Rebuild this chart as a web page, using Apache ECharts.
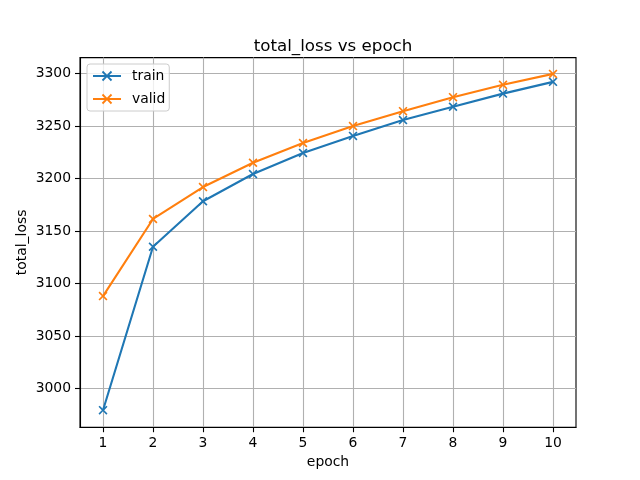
<!DOCTYPE html>
<html>
<head>
<meta charset="utf-8">
<script src="https://cdn.jsdelivr.net/npm/echarts@6/dist/echarts.min.js"></script>
<style>html,body{margin:0;padding:0;background:#fff}#c{width:640px;height:480px}</style>
</head>
<body>
<div id="c"></div>
<script>
const epochs = [1, 2, 3, 4, 5, 6, 7, 8, 9, 10];
const trainLoss = [2979.5, 3135.2, 3178.5, 3204.4, 3224.5, 3240.7, 3255.8, 3268.5, 3281.0, 3292.2];
const validLoss = [3088.2, 3161.6, 3192.0, 3215.2, 3234.0, 3250.1, 3264.3, 3277.6, 3289.4, 3299.8];
const xTicks = [1, 2, 3, 4, 5, 6, 7, 8, 9, 10];
const yTicks = [3000, 3050, 3100, 3150, 3200, 3250, 3300];

const font = 'DejaVu Sans';
const xMarker = 'path://M0,1.3L1.3,0L5,3.7L8.7,0L10,1.3L6.3,5L10,8.7L8.7,10L5,6.3L1.3,10L0,8.7L3.7,5Z';
const chart = echarts.init(document.getElementById('c'), null, {renderer: 'canvas'});
function mkSeries(name, vals, color) {
  return {
    name: name, type: 'line',
    data: epochs.map((e, i) => [e, vals[i]]),
    symbol: xMarker, symbolSize: 9, showSymbol: true,
    lineStyle: {color: color, width: 2.1},
    itemStyle: {color: color},
    emphasis: {disabled: true},
    animation: false
  };
}
chart.setOption({
  animation: false,
  backgroundColor: '#ffffff',
  title: {
    text: 'total_loss vs epoch', left: 328, top: 33, textAlign: 'center',
    textStyle: {fontFamily: font, fontSize: 16.7, fontWeight: 'normal', color: '#000'}
  },
  legend: {
    left: 87, top: 64, orient: 'vertical',
    itemWidth: 28, itemHeight: 13, itemGap: 9,
    padding: [5, 4, 5, 5],
    backgroundColor: 'rgba(255,255,255,0.8)', borderColor: '#cccccc', borderWidth: 1, borderRadius: 3,
    textStyle: {fontFamily: font, fontSize: 13.9, color: '#000', padding: [0, 0, 0, 6]},
    data: ['train', 'valid']
  },
  grid: {left: 80, right: 64, top: 57.6, bottom: 52.8, containLabel: false,
    show: true, borderColor: '#000', borderWidth: 1.1, backgroundColor: 'transparent'},
  xAxis: {
    type: 'value', min: 0.54, max: 10.46,
    name: 'epoch', nameLocation: 'middle', nameGap: 28,
    nameTextStyle: {fontFamily: font, fontSize: 13.9, color: '#000'},
    axisLine: {show: true, lineStyle: {color: '#000', width: 1.1}},
    axisTick: {show: true, length: 5, lineStyle: {color: '#000', width: 1.1}, customValues: xTicks},
    axisLabel: {fontFamily: font, fontSize: 13.9, color: '#000', margin: 9, customValues: xTicks,
      formatter: v => String(v)},
    splitLine: {show: true, lineStyle: {color: '#b0b0b0', width: 1.1}}
  },
  yAxis: {
    type: 'value', min: 2963.3, max: 3315.3,
    name: 'total_loss', nameLocation: 'middle', nameGap: 51, nameMoveOverlap: false,
    nameTextStyle: {fontFamily: font, fontSize: 13.9, color: '#000'},
    axisLine: {show: true, lineStyle: {color: '#000', width: 1.1}},
    axisTick: {show: true, length: 5, lineStyle: {color: '#000', width: 1.1}, customValues: yTicks},
    axisLabel: {fontFamily: font, fontSize: 13.9, color: '#000', margin: 9, customValues: yTicks,
      formatter: v => String(v)},
    splitLine: {show: true, lineStyle: {color: '#b0b0b0', width: 1.1}}
  },
  series: [mkSeries('train', trainLoss, '#1f77b4'), mkSeries('valid', validLoss, '#ff7f0e')]
});
</script>
</body>
</html>
